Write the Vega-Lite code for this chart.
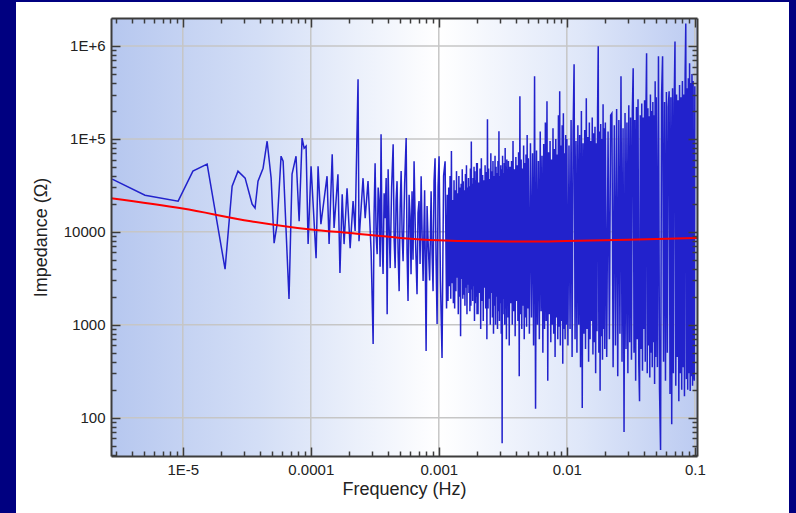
{
"$schema": "https://vega.github.io/schema/vega-lite/v6.json",
"width": 773, "height": 511,
"padding": {"left": 16, "top": 2, "right": 7, "bottom": 0},
"autosize": {"type": "none"},
"background": "#000080",
"view": {"fill": "#ffffff", "stroke": null},
"config": {
 "axis": {"labelFont": "Liberation Sans", "labelFontSize": 15, "labelColor": "#222222", "titleFont": "Liberation Sans", "titleFontSize": 18, "titleFontWeight": "normal", "titleColor": "#222222", "domainColor": "#3c3c3c", "domainWidth": 2, "tickColor": "#3c3c3c", "tickWidth": 1.5, "grid": false, "zindex": 1, "labelFlush": false, "labelOverlap": false}
},
"datasets": {
 "vgrid": [{"g": 0.00001}, {"g": 0.0001}, {"g": 0.001}, {"g": 0.01}, {"g": 0.1}],
 "hgrid": [{"g": 100}, {"g": 1000}, {"g": 10000}, {"g": 100000}, {"g": 1000000}],
 "fit": [{"f":2.75e-6,"z":23000},{"f":1e-5,"z":17800},{"f":3.4e-5,"z":13000},{"f":1e-4,"z":10600},{"f":2e-4,"z":9700},{"f":5e-4,"z":8600},{"f":1e-3,"z":8100},{"f":2e-3,"z":7900},{"f":5e-3,"z":7850},{"f":1e-2,"z":7950},{"f":3e-2,"z":8200},{"f":0.104,"z":8600}],
 "imp": [
{"f":2.81e-6,"z":36900},{"f":5.07e-6,"z":24800},{"f":9.2e-6,"z":21400},{"f":1.2e-5,"z":45000},{"f":1.55e-5,"z":53500},{"f":2.14e-5,"z":3970},{"f":2.43e-5,"z":31000},{"f":2.7e-5,"z":45000},{"f":3.07e-5,"z":37800},{"f":3.48e-5,"z":19900},{"f":3.67e-5,"z":18000},{"f":3.87e-5,"z":35100},{"f":4.24e-5,"z":48400},{"f":4.56e-5,"z":94400},{"f":4.9e-5,"z":37800},{"f":5.17e-5,"z":7550},{"f":5.46e-5,"z":12100},{"f":5.86e-5,"z":65200},{"f":6.08e-5,"z":57500},{"f":6.76e-5,"z":1890},{"f":7.14e-5,"z":41700},{"f":7.67e-5,"z":65200},{"f":8.11e-5,"z":13000},{"f":8.55e-5,"z":102000},{"f":8.87e-5,"z":79400},{"f":9.19e-5,"z":83500},{"f":9.53e-5,"z":7380},{"f":1.005e-4,"z":50800},{"f":1.04e-4,"z":21400},{"f":1.1e-4,"z":5210},{"f":1.14e-4,"z":50800},{"f":1.2e-4,"z":12100},{"f":1.34e-4,"z":39700},{"f":1.39e-4,"z":7380},{"f":1.47e-4,"z":68400},{"f":1.52e-4,"z":11000},{"f":1.58e-4,"z":23000},{"f":1.63e-4,"z":41700},{"f":1.69e-4,"z":3600},{"f":1.76e-4,"z":25400},{"f":1.82e-4,"z":7380},{"f":1.92e-4,"z":29500},{"f":2.03e-4,"z":6680},{"f":2.14e-4,"z":21400},{"f":2.22e-4,"z":10200},{"f":2.34e-4,"z":439000},{"f":2.38e-4,"z":7940},{"f":2.56e-4,"z":37800},{"f":2.66e-4,"z":14000},{"f":2.8e-4,"z":35100},{"f":2.96e-4,"z":6200},
{"f":3.07e-4,"z":620},{"f":3.12e-4,"z":15000},{"f":3.18e-4,"z":54800},{"f":3.24e-4,"z":9000},{"f":3.3e-4,"z":5750},{"f":3.36e-4,"z":30000},{"f":3.42e-4,"z":21400},{"f":3.48e-4,"z":4200},{"f":3.54e-4,"z":112000},{"f":3.6e-4,"z":9000},{"f":3.67e-4,"z":3510},{"f":3.74e-4,"z":26000},{"f":3.81e-4,"z":14000},{"f":3.88e-4,"z":38000},{"f":3.95e-4,"z":1300},{"f":4.02e-4,"z":47200},{"f":4.09e-4,"z":12000},{"f":4.17e-4,"z":4070},{"f":4.28e-4,"z":30000},{"f":4.4e-4,"z":87700},{"f":4.48e-4,"z":8000},{"f":4.56e-4,"z":4070},{"f":4.64e-4,"z":22000},{"f":4.72e-4,"z":35100},{"f":4.81e-4,"z":6000},{"f":4.9e-4,"z":2300},{"f":4.99e-4,"z":18000},{"f":5.08e-4,"z":45000},{"f":5.17e-4,"z":9500},{"f":5.26e-4,"z":4840},{"f":5.41e-4,"z":33000},{"f":5.56e-4,"z":102000},{"f":5.65e-4,"z":6000},{"f":5.75e-4,"z":1800},{"f":5.86e-4,"z":25000},{"f":5.97e-4,"z":14700},{"f":6.07e-4,"z":3500},{"f":6.18e-4,"z":27400},{"f":6.29e-4,"z":5000},{"f":6.41e-4,"z":57500},{"f":6.58e-4,"z":8000},{"f":6.76e-4,"z":2130},{"f":6.88e-4,"z":16000},{"f":7.01e-4,"z":21400},{"f":7.14e-4,"z":4500},{"f":7.28e-4,"z":39700},{"f":7.41e-4,"z":9000},{"f":7.54e-4,"z":2950},{"f":7.75e-4,"z":28000},{"f":7.96e-4,"z":521},{"f":8.1e-4,"z":19000},{"f":8.25e-4,"z":7940},{"f":8.48e-4,"z":3000},{"f":8.71e-4,"z":27400},{"f":8.86e-4,"z":6000},{"f":9.02e-4,"z":2300},{"f":9.18e-4,"z":35000},{"f":9.35e-4,"z":62000},{"f":9.52e-4,"z":5000},{"f":9.7e-4,"z":1020},{"f":9.87e-4,"z":30000},{"f":1.005e-3,"z":65200},{"f":1.03e-3,"z":3000},{"f":1.06e-3,"z":438},{"f":1.09e-3,"z":40000},{"f":1.12e-3,"z":57500},
{"f":0.00115,"z":1500},{"f":0.001165,"z":25000},{"f":0.00118,"z":1800},{"f":0.001195,"z":30000},{"f":0.00121,"z":2600},{"f":0.001225,"z":40000},{"f":0.00124,"z":1900},{"f":0.001255,"z":74000},{"f":0.00127,"z":2800},{"f":0.001285,"z":22000},{"f":0.0013,"z":1700},{"f":0.001315,"z":36000},{"f":0.00133,"z":1500},{"f":0.001345,"z":28000},{"f":0.00136,"z":2300},{"f":0.001375,"z":45000},{"f":0.00139,"z":3200},{"f":0.001405,"z":26000},{"f":0.00142,"z":1300},{"f":0.001435,"z":40000},{"f":0.00145,"z":2000},{"f":0.001465,"z":30000},{"f":0.00148,"z":750},{"f":0.001495,"z":33000},{"f":0.00151,"z":3100},{"f":0.001525,"z":47000},{"f":0.00154,"z":1900},{"f":0.001555,"z":35000},{"f":0.00157,"z":2100},{"f":0.001585,"z":28000},{"f":0.0016,"z":1600},{"f":0.001615,"z":42000},{"f":0.00163,"z":2500},{"f":0.001645,"z":52000},{"f":0.00166,"z":1300},{"f":0.001675,"z":30000},{"f":0.00169,"z":2700},{"f":0.001705,"z":38000},{"f":0.00172,"z":2200},{"f":0.001735,"z":31000},{"f":0.00175,"z":1400},{"f":0.001765,"z":48000},{"f":0.00178,"z":1600},{"f":0.001795,"z":94000},{"f":0.00181,"z":2400},{"f":0.001825,"z":33000},{"f":0.00184,"z":1800},{"f":0.001855,"z":38000},{"f":0.00187,"z":2600},{"f":0.001885,"z":50000},{"f":0.0019,"z":1100},{"f":0.001915,"z":45000},{"f":0.00193,"z":1700},{"f":0.001945,"z":36000},{"f":0.00196,"z":2000},{"f":0.001975,"z":55000},{"f":0.00199,"z":1300},
{"f":0.002,"z":55000},{"f":0.002025,"z":1300},{"f":0.00205,"z":34000},{"f":0.002075,"z":2200},{"f":0.0021,"z":48000},{"f":0.002125,"z":900},{"f":0.00215,"z":62000},{"f":0.002175,"z":1800},{"f":0.0022,"z":41000},{"f":0.002225,"z":1100},{"f":0.00225,"z":36000},{"f":0.002275,"z":2500},{"f":0.0023,"z":52000},{"f":0.002325,"z":1500},{"f":0.00235,"z":44000},{"f":0.002375,"z":700},{"f":0.0024,"z":163000},{"f":0.002425,"z":1500},{"f":0.00245,"z":48000},{"f":0.002475,"z":1900},{"f":0.0025,"z":37000},{"f":0.002525,"z":1000},{"f":0.00255,"z":70000},{"f":0.002575,"z":2200},{"f":0.0026,"z":45000},{"f":0.002625,"z":1200},{"f":0.00265,"z":58000},{"f":0.002675,"z":800},{"f":0.0027,"z":40000},{"f":0.002725,"z":1600},{"f":0.00275,"z":66000},{"f":0.002775,"z":1000},{"f":0.0028,"z":50000},{"f":0.002825,"z":2000},{"f":0.00285,"z":43000},{"f":0.002875,"z":900},{"f":0.0029,"z":58000},{"f":0.002925,"z":1400},{"f":0.00295,"z":121000},{"f":0.002975,"z":1100},{"f":0.003,"z":40000},{"f":0.003025,"z":1700},{"f":0.00305,"z":52000},{"f":0.003075,"z":800},{"f":0.0031,"z":47000},{"f":0.003125,"z":53},{"f":0.00315,"z":66000},{"f":0.003175,"z":1300},{"f":0.0032,"z":43000},{"f":0.003225,"z":1900},{"f":0.00325,"z":55000},{"f":0.003275,"z":1000},{"f":0.0033,"z":80000},{"f":0.003325,"z":1500},{"f":0.00335,"z":50000},{"f":0.003375,"z":700},{"f":0.0034,"z":60000},{"f":0.003425,"z":1700},{"f":0.00345,"z":47000},{"f":0.003475,"z":1200},{"f":0.0035,"z":58000},
{"f":0.00355,"z":600},{"f":0.0036,"z":50000},{"f":0.00365,"z":1700},{"f":0.0037,"z":58000},{"f":0.00375,"z":1000},{"f":0.0038,"z":95000},{"f":0.00385,"z":1400},{"f":0.0039,"z":47000},{"f":0.00395,"z":750},{"f":0.004,"z":64000},{"f":0.00405,"z":1800},{"f":0.0041,"z":52000},{"f":0.00415,"z":1100},{"f":0.0042,"z":72000},{"f":0.00425,"z":280},{"f":0.0043,"z":288000},{"f":0.00435,"z":1300},{"f":0.0044,"z":60000},{"f":0.00445,"z":900},{"f":0.0045,"z":48000},{"f":0.00455,"z":1600},{"f":0.0046,"z":85000},{"f":0.00465,"z":700},{"f":0.0047,"z":55000},{"f":0.00475,"z":1200},{"f":0.0048,"z":68000},{"f":0.00485,"z":950},{"f":0.0049,"z":110000},{"f":0.00495,"z":1500},
{"f":0.005,"z":62000},{"f":0.0051,"z":800},{"f":0.0052,"z":90000},{"f":0.0053,"z":1200},{"f":0.0054,"z":70000},{"f":0.0055,"z":600},{"f":0.0056,"z":472000},{"f":0.0057,"z":125},{"f":0.0058,"z":75000},{"f":0.0059,"z":1000},{"f":0.006,"z":58000},{"f":0.0061,"z":700},{"f":0.0062,"z":120000},{"f":0.0063,"z":1400},{"f":0.0064,"z":66000},{"f":0.0065,"z":500},{"f":0.0066,"z":88000},{"f":0.0067,"z":900},{"f":0.0068,"z":150000},{"f":0.0069,"z":1100},{"f":0.007,"z":254000},{"f":0.0071,"z":250},{"f":0.0072,"z":72000},{"f":0.0073,"z":1300},{"f":0.0074,"z":95000},{"f":0.0075,"z":650},{"f":0.0076,"z":60000},{"f":0.0077,"z":1000},{"f":0.0078,"z":130000},{"f":0.0079,"z":800},{"f":0.008,"z":78000},{"f":0.0081,"z":450},{"f":0.0082,"z":100000},{"f":0.0083,"z":1200},{"f":0.0084,"z":68000},{"f":0.0085,"z":700},{"f":0.0086,"z":180000},{"f":0.0087,"z":950},{"f":0.0088,"z":326000},{"f":0.0089,"z":600},{"f":0.009,"z":85000},{"f":0.0091,"z":1100},{"f":0.0092,"z":140000},{"f":0.0093,"z":380},{"f":0.0094,"z":189000},{"f":0.0095,"z":900},{"f":0.0096,"z":70000},{"f":0.0097,"z":700},{"f":0.0098,"z":110000},{"f":0.0099,"z":1000},
{"f":0.01,"z":100000},{"f":0.0102,"z":600},{"f":0.0104,"z":85000},{"f":0.0106,"z":900},{"f":0.0108,"z":160000},{"f":0.011,"z":450},{"f":0.0112,"z":120000},{"f":0.0114,"z":636000},{"f":0.0116,"z":700},{"f":0.0118,"z":95000},{"f":0.012,"z":500},{"f":0.0122,"z":140000},{"f":0.0124,"z":1000},{"f":0.0126,"z":110000},{"f":0.0128,"z":350},{"f":0.013,"z":200000},{"f":0.0132,"z":127},{"f":0.0134,"z":90000},{"f":0.0136,"z":800},{"f":0.0138,"z":125000},{"f":0.014,"z":550},{"f":0.0142,"z":273000},{"f":0.0144,"z":900},{"f":0.0146,"z":105000},{"f":0.0148,"z":400},{"f":0.015,"z":150000},{"f":0.0152,"z":700},{"f":0.0154,"z":95000},{"f":0.0156,"z":1100},{"f":0.0158,"z":170000},{"f":0.016,"z":480},{"f":0.0162,"z":115000},{"f":0.0164,"z":650},{"f":0.0166,"z":135000},{"f":0.0168,"z":300},{"f":0.017,"z":90000},{"f":0.0172,"z":850},{"f":0.0174,"z":210000},{"f":0.0176,"z":993000},{"f":0.0178,"z":500},{"f":0.018,"z":120000},{"f":0.0182,"z":195},{"f":0.0184,"z":145000},{"f":0.0186,"z":750},{"f":0.0188,"z":100000},{"f":0.019,"z":420},{"f":0.0192,"z":236000},{"f":0.0194,"z":900},{"f":0.0196,"z":130000},{"f":0.0198,"z":550},
{"f":0.02,"z":150000},{"f":0.0205,"z":450},{"f":0.021,"z":120000},{"f":0.0215,"z":700},{"f":0.022,"z":180000},{"f":0.0225,"z":189000},{"f":0.023,"z":350},{"f":0.0235,"z":140000},{"f":0.024,"z":600},{"f":0.0245,"z":210000},{"f":0.025,"z":280},{"f":0.0255,"z":160000},{"f":0.026,"z":800},{"f":0.0265,"z":472000},{"f":0.027,"z":400},{"f":0.0275,"z":130000},{"f":0.028,"z":70},{"f":0.0285,"z":190000},{"f":0.029,"z":550},{"f":0.0295,"z":150000},{"f":0.03,"z":300},{"f":0.0305,"z":230000},{"f":0.031,"z":650},{"f":0.0315,"z":170000},{"f":0.032,"z":420},{"f":0.0325,"z":200000},{"f":0.033,"z":575000},{"f":0.0335,"z":500},{"f":0.034,"z":160000},{"f":0.0345,"z":250},{"f":0.035,"z":220000},{"f":0.0355,"z":700},{"f":0.036,"z":267000},{"f":0.0365,"z":380},{"f":0.037,"z":150},{"f":0.0375,"z":180000},{"f":0.038,"z":550},{"f":0.0385,"z":240000},{"f":0.039,"z":320},{"f":0.0395,"z":170000},{"f":0.04,"z":900},{"f":0.0405,"z":260000},{"f":0.041,"z":400},{"f":0.0415,"z":190000},{"f":0.042,"z":835000},{"f":0.0425,"z":300},{"f":0.043,"z":214000},{"f":0.0435,"z":600},{"f":0.044,"z":175000},{"f":0.0445,"z":270},{"f":0.045,"z":300000},{"f":0.0455,"z":500},{"f":0.046,"z":200000},{"f":0.0465,"z":350},{"f":0.047,"z":250000},{"f":0.0475,"z":650},{"f":0.048,"z":180000},{"f":0.0485,"z":230},{"f":0.049,"z":417000},{"f":0.0495,"z":450},
{"f":0.05,"z":280000},{"f":0.051,"z":350},{"f":0.052,"z":775000},{"f":0.053,"z":200},{"f":0.054,"z":45},{"f":0.055,"z":300000},{"f":0.056,"z":775000},{"f":0.057,"z":400},{"f":0.058,"z":250000},{"f":0.059,"z":250},{"f":0.06,"z":320000},{"f":0.061,"z":500},{"f":0.062,"z":220000},{"f":0.063,"z":326000},{"f":0.064,"z":180},{"f":0.065,"z":280000},{"f":0.066,"z":85},{"f":0.067,"z":350000},{"f":0.068,"z":300},{"f":0.069,"z":240000},{"f":0.07,"z":1120000},{"f":0.071,"z":220},{"f":0.072,"z":300000},{"f":0.073,"z":450},{"f":0.074,"z":260000},{"f":0.075,"z":150},{"f":0.076,"z":380000},{"f":0.077,"z":300},{"f":0.078,"z":280000},{"f":0.079,"z":200},{"f":0.08,"z":420000},{"f":0.081,"z":350},{"f":0.082,"z":300000},{"f":0.083,"z":170},{"f":0.084,"z":500000},{"f":0.085,"z":1750000},{"f":0.086,"z":260},{"f":0.087,"z":350000},{"f":0.088,"z":200},{"f":0.089,"z":450000},{"f":0.09,"z":300},{"f":0.091,"z":652000},{"f":0.092,"z":194},{"f":0.093,"z":400000},{"f":0.094,"z":280},{"f":0.095,"z":500000},{"f":0.096,"z":220},{"f":0.097,"z":420000},{"f":0.098,"z":300},{"f":0.099,"z":250},{"f":0.1,"z":368000}
 ]
},
"resolve": {"axis": {"x": "independent", "y": "independent"}},
"layer": [
 {
  "data": {"values": [{}]},
  "mark": {"type": "rect", "fill": {"gradient": "linear", "x1": 0, "y1": 0, "x2": 1, "y2": 0, "stops": [{"offset": 0, "color": "#b6c7ef"}, {"offset": 0.25, "color": "#d3def6"}, {"offset": 0.56, "color": "#ffffff"}, {"offset": 0.8, "color": "#dfe7f9"}, {"offset": 1, "color": "#bccbf1"}]}},
  "encoding": {
   "x": {"datum": 2.75e-6, "type": "quantitative", "scale": {"type": "log", "domain": [2.75e-6, 0.104], "range": [95, 681], "nice": false, "zero": false},
    "axis": {"orient": "top", "offset": -16, "zindex": 2, "values": [3e-6,4e-6,5e-6,6e-6,7e-6,8e-6,9e-6,2e-5,3e-5,4e-5,5e-5,6e-5,7e-5,8e-5,9e-5,2e-4,3e-4,4e-4,5e-4,6e-4,7e-4,8e-4,9e-4,2e-3,3e-3,4e-3,5e-3,6e-3,7e-3,8e-3,9e-3,0.02,0.03,0.04,0.05,0.06,0.07,0.08,0.09], "labels": false, "domain": false, "title": null, "tickSize": -5}},
   "x2": {"datum": 0.104},
   "y": {"datum": 38.7, "type": "quantitative", "scale": {"type": "log", "domain": [38.7, 2000000], "range": [454, 16], "nice": false, "zero": false},
    "axis": {"orient": "right", "offset": -92, "zindex": 2, "values": [40,50,60,70,80,90,200,300,400,500,600,700,800,900,2000,3000,4000,5000,6000,7000,8000,9000,20000,30000,40000,50000,60000,70000,80000,90000,200000,300000,400000,500000,600000,700000,800000,900000], "labels": false, "domain": false, "title": null, "tickSize": -5}},
   "y2": {"datum": 2000000}
  }
 },
 {
  "data": {"name": "vgrid"},
  "mark": {"type": "rule", "color": "#c6c6c6", "strokeWidth": 1.5},
  "encoding": {
   "x": {"field": "g", "type": "quantitative", "scale": {"type": "log", "domain": [2.75e-6, 0.104], "range": [95, 681], "nice": false, "zero": false},
    "axis": {"orient": "bottom", "offset": -57, "zindex": 2, "values": [3e-6,4e-6,5e-6,6e-6,7e-6,8e-6,9e-6,2e-5,3e-5,4e-5,5e-5,6e-5,7e-5,8e-5,9e-5,2e-4,3e-4,4e-4,5e-4,6e-4,7e-4,8e-4,9e-4,2e-3,3e-3,4e-3,5e-3,6e-3,7e-3,8e-3,9e-3,0.02,0.03,0.04,0.05,0.06,0.07,0.08,0.09], "labels": false, "domain": false, "title": null, "tickSize": -5}},
   "y": {"datum": 38.7, "type": "quantitative", "scale": {"type": "log", "domain": [38.7, 2000000], "range": [454, 16], "nice": false, "zero": false}, "axis": null},
   "y2": {"datum": 2000000}
  }
 },
 {
  "data": {"name": "hgrid"},
  "mark": {"type": "rule", "color": "#c6c6c6", "strokeWidth": 1.5},
  "encoding": {
   "y": {"field": "g", "type": "quantitative", "scale": {"type": "log", "domain": [38.7, 2000000], "range": [454, 16], "nice": false, "zero": false},
    "axis": {"orient": "left", "offset": -95, "zindex": 2, "values": [40,50,60,70,80,90,200,300,400,500,600,700,800,900,2000,3000,4000,5000,6000,7000,8000,9000,20000,30000,40000,50000,60000,70000,80000,90000,200000,300000,400000,500000,600000,700000,800000,900000], "labels": false, "domain": false, "title": null, "tickSize": -5}},
   "x": {"datum": 2.75e-6, "type": "quantitative", "scale": {"type": "log", "domain": [2.75e-6, 0.104], "range": [95, 681], "nice": false, "zero": false}, "axis": null},
   "x2": {"datum": 0.104}
  }
 },
 {
  "data": {"name": "imp"},
  "mark": {"type": "line", "color": "#2222cc", "strokeWidth": 1.5},
  "encoding": {
   "x": {"field": "f", "type": "quantitative", "scale": {"type": "log", "domain": [2.75e-6, 0.104], "range": [95, 681], "nice": false, "zero": false},
    "axis": {"orient": "bottom", "offset": -57, "zindex": 2, "values": [1e-5, 1e-4, 1e-3, 0.01, 0.1],
     "labelExpr": "datum.value < 0.00005 ? '1E-5' : format(datum.value, '~g')",
     "tickSize": -9, "labelPadding": 15, "title": "Frequency (Hz)", "titlePadding": 3}},
   "y": {"field": "z", "type": "quantitative", "scale": {"type": "log", "domain": [38.7, 2000000], "range": [454, 16], "nice": false, "zero": false},
    "axis": {"orient": "left", "offset": -95, "zindex": 2, "values": [100, 1000, 10000, 100000, 1000000],
     "labelExpr": "datum.value >= 100000 ? '1E+' + round(log(datum.value)/LN10) : format(datum.value, 'd')",
     "tickSize": -9, "labelPadding": 15, "title": "Impedance (Ω)", "titlePadding": 13}}
  }
 },
 {
  "data": {"name": "fit"},
  "mark": {"type": "line", "color": "#ff0000", "strokeWidth": 2, "interpolate": "monotone"},
  "encoding": {
   "x": {"field": "f", "type": "quantitative", "scale": {"type": "log", "domain": [2.75e-6, 0.104], "range": [95, 681], "nice": false, "zero": false},
    "axis": {"orient": "top", "offset": -16, "zindex": 2, "values": [1e-5, 1e-4, 1e-3, 0.01, 0.1], "labels": false, "title": null, "tickSize": -9}},
   "y": {"field": "z", "type": "quantitative", "scale": {"type": "log", "domain": [38.7, 2000000], "range": [454, 16], "nice": false, "zero": false},
    "axis": {"orient": "right", "offset": -92, "zindex": 2, "values": [100, 1000, 10000, 100000, 1000000], "labels": false, "title": null, "tickSize": -9}}
  }
 }
]
}
